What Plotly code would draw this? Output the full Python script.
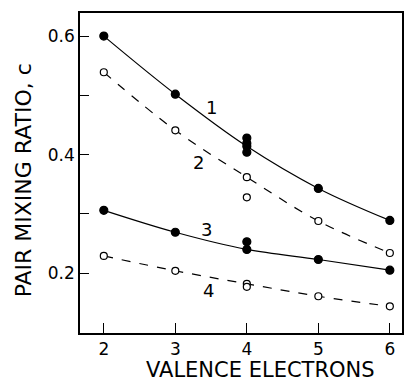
import plotly.graph_objects as go

electrons = [2, 3, 4, 5, 6]
curve1 = [0.600, 0.502, 0.414, 0.343, 0.289]
curve2 = [0.539, 0.441, 0.362, 0.288, 0.234]
curve3 = [0.306, 0.269, 0.240, 0.223, 0.205]
curve4 = [0.229, 0.204, 0.182, 0.161, 0.144]

extra_x1 = [4, 4, 4]
extra_y1 = [0.428, 0.419, 0.404]
extra_x2 = [4]
extra_y2 = [0.328]
extra_x3 = [4]
extra_y3 = [0.253]
extra_x4 = [4]
extra_y4 = [0.177]

labels = ["1", "2", "3", "4"]
label_x = [3.5, 3.33, 3.43, 3.47]
label_y = [0.48, 0.386, 0.273, 0.171]

xticks = [2, 3, 4, 5, 6]
yticks = [0.2, 0.3, 0.4, 0.5, 0.6]
ytick_text = ["0.2", "", "0.4", "", "0.6"]

font = "DejaVu Sans"
fig = go.Figure()

def add_curve(y, filled, dashed):
    fig.add_trace(go.Scatter(
        x=electrons, y=y, mode="lines+markers",
        line=dict(color="black", width=1.2, shape="spline", dash="dash" if dashed else "solid"),
        marker=dict(size=8 if filled else 7, color="black" if filled else "white",
                    line=dict(color="black", width=1.2), symbol="circle"),
        showlegend=False))

def add_extra(x, y, filled):
    fig.add_trace(go.Scatter(
        x=x, y=y, mode="markers",
        marker=dict(size=8 if filled else 7, color="black" if filled else "white",
                    line=dict(color="black", width=1.2)),
        showlegend=False))

add_curve(curve1, True, False)
add_curve(curve2, False, True)
add_curve(curve3, True, False)
add_curve(curve4, False, True)
add_extra(extra_x1, extra_y1, True)
add_extra(extra_x2, extra_y2, False)
add_extra(extra_x3, extra_y3, True)
add_extra(extra_x4, extra_y4, False)

for t, lx, ly in zip(labels, label_x, label_y):
    fig.add_annotation(x=lx, y=ly, text=t, showarrow=False,
                       font=dict(family=font, size=18, color="black"))

fig.add_annotation(xref="paper", yref="paper", x=0.56, y=-0.115,
                   xanchor="center", yanchor="middle",
                   text="VALENCE ELECTRONS", showarrow=False,
                   font=dict(family=font, size=21, color="black"))
fig.add_annotation(xref="paper", yref="paper", x=-0.176, y=0.478,
                   xanchor="center", yanchor="middle", textangle=-90,
                   text="PAIR MIXING RATIO, c", showarrow=False,
                   font=dict(family=font, size=22, color="black"))

fig.update_xaxes(range=[1.667, 6.17], tickvals=xticks, ticks="inside", ticklen=10,
                 tickwidth=1.2, tickcolor="black", showline=True, linecolor="black",
                 linewidth=1.5, mirror=True, showgrid=False, zeroline=False,
                 tickfont=dict(family=font, size=17, color="black"))
fig.update_yaxes(range=[0.099, 0.639], tickvals=yticks, ticktext=ytick_text,
                 ticks="inside", ticklen=9, tickwidth=1.2, tickcolor="black",
                 showline=True, linecolor="black", linewidth=1.5, mirror=True,
                 showgrid=False, zeroline=False,
                 tickfont=dict(family=font, size=17, color="black"))

fig.update_layout(width=404, height=384, margin=dict(l=80, r=0, t=13, b=51),
                  plot_bgcolor="white", paper_bgcolor="white")
fig.write_html("out.html")
